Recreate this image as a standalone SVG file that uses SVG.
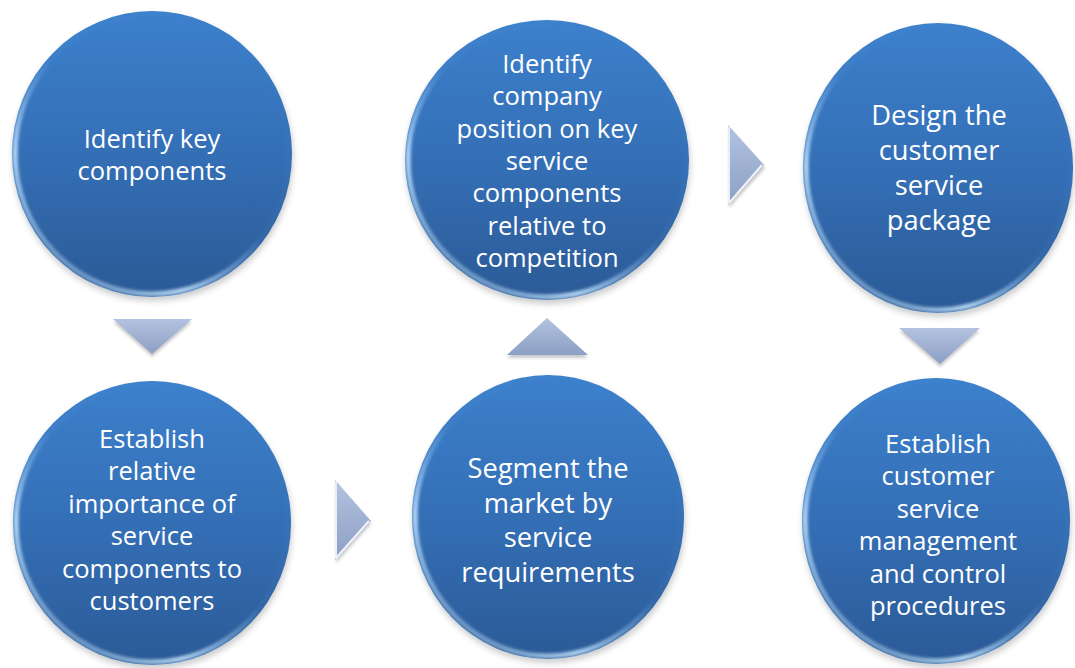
<svg xmlns="http://www.w3.org/2000/svg" width="1075" height="668" viewBox="0 0 1075 668">
<style>
.lbl{font-family:"Open Sans","Noto Sans","DejaVu Sans",sans-serif;fill:#ffffff;text-anchor:middle}
.s{font-size:25.5px}
.l{font-size:27.3px}
.body{fill:url(#gBlue)}
.rim{fill:none;stroke:url(#gRim);stroke-width:5;filter:url(#fSoft)}
.shadow{fill:#6a6a6a;opacity:0.35;filter:url(#fShadow)}
.arrow{fill:url(#gArrow)}
.arrowEdge{fill:none;stroke:url(#gArrowEdge);stroke-width:2;stroke-linejoin:round}
.ashadow{fill:#7a7a7a;opacity:0.4;filter:url(#fShadowS)}
</style>
<defs>
<linearGradient id="gBlue" x1="0" y1="0" x2="0" y2="1">
<stop offset="0" stop-color="#3c80cc"/>
<stop offset="0.5" stop-color="#346fb6"/>
<stop offset="1" stop-color="#2b5a96"/>
</linearGradient>
<linearGradient id="gRim" x1="0.85" y1="0.05" x2="0.15" y2="0.9">
<stop offset="0" stop-color="#9fd0ff" stop-opacity="0"/>
<stop offset="0.5" stop-color="#9fd0ff" stop-opacity="0.05"/>
<stop offset="0.8" stop-color="#c8e8ff" stop-opacity="0.85"/>
<stop offset="1" stop-color="#c8e8ff" stop-opacity="0.35"/>
</linearGradient>
<linearGradient id="gArrow" x1="0" y1="0" x2="0" y2="1">
<stop offset="0" stop-color="#b3c2e0"/>
<stop offset="1" stop-color="#8c9fc4"/>
</linearGradient>
<linearGradient id="gArrowEdge" x1="0" y1="0" x2="1" y2="1">
<stop offset="0" stop-color="#e6ecf8"/>
<stop offset="1" stop-color="#f4f7fd"/>
</linearGradient>
<filter id="fSoft" x="-10%" y="-10%" width="120%" height="120%"><feGaussianBlur stdDeviation="1.5"/></filter>
<filter id="fShadow" x="-20%" y="-20%" width="140%" height="140%"><feGaussianBlur stdDeviation="3"/></filter>
<filter id="fShadowS" x="-30%" y="-30%" width="160%" height="160%"><feGaussianBlur stdDeviation="1.5"/></filter>
</defs>

<g id="connectors">
<g id="arrow-1-2">
<polygon class="ashadow" points="113,322 192,322 152,357"/>
<polygon class="arrow" points="113,319 192,319 152,354"/>
</g>
<g id="arrow-2-4">
<polygon class="ashadow" points="336,483 371,524 336,563"/>
<polygon class="arrow" points="335,480 371,521 335,560"/>
<polyline class="arrowEdge" points="336,482 336,558 369,521"/>
</g>
<g id="arrow-4-3">
<polygon class="ashadow" points="507,358 588,358 547,321"/>
<polygon class="arrow" points="507,355 588,355 547,318"/>
</g>
<g id="arrow-3-5">
<polygon class="ashadow" points="729,128 765,168 729,208"/>
<polygon class="arrow" points="728,125 764,165 728,205"/>
<polyline class="arrowEdge" points="729,127 729,203 762,165"/>
</g>
<g id="arrow-5-6">
<polygon class="ashadow" points="899,331 980,331 940,367"/>
<polygon class="arrow" points="899,328 980,328 940,364"/>
</g>
</g>

<g id="node1">
<ellipse class="shadow" cx="153" cy="158" rx="140" ry="143"/>
<ellipse class="body" cx="152" cy="154" rx="140" ry="143"/>
<ellipse class="rim" cx="152" cy="154" rx="137" ry="140"/>
<text class="lbl s" x="152" y="148">Identify key</text>
<text class="lbl s" x="152" y="180">components</text>
</g>

<g id="node2">
<ellipse class="shadow" cx="153" cy="527" rx="139" ry="142"/>
<ellipse class="body" cx="152" cy="523" rx="139" ry="142"/>
<ellipse class="rim" cx="152" cy="523" rx="136" ry="139"/>
<text class="lbl s" x="152" y="448">Establish</text>
<text class="lbl s" x="152" y="480">relative</text>
<text class="lbl s" x="152" y="513">importance of</text>
<text class="lbl s" x="152" y="545">service</text>
<text class="lbl s" x="152" y="578">components to</text>
<text class="lbl s" x="152" y="610">customers</text>
</g>

<g id="node3">
<ellipse class="shadow" cx="548" cy="164" rx="142" ry="140"/>
<ellipse class="body" cx="547" cy="160" rx="142" ry="140"/>
<ellipse class="rim" cx="547" cy="160" rx="139" ry="137"/>
<text class="lbl s" x="547" y="73">Identify</text>
<text class="lbl s" x="547" y="105">company</text>
<text class="lbl s" x="547" y="138">position on key</text>
<text class="lbl s" x="547" y="170">service</text>
<text class="lbl s" x="547" y="202">components</text>
<text class="lbl s" x="547" y="235">relative to</text>
<text class="lbl s" x="547" y="267">competition</text>
</g>

<g id="node4">
<ellipse class="shadow" cx="549" cy="521" rx="136" ry="142"/>
<ellipse class="body" cx="548" cy="517" rx="136" ry="142"/>
<ellipse class="rim" cx="548" cy="517" rx="133" ry="139"/>
<text class="lbl l" x="548" y="478">Segment the</text>
<text class="lbl l" x="548" y="513">market by</text>
<text class="lbl l" x="548" y="547">service</text>
<text class="lbl l" x="548" y="582">requirements</text>
</g>

<g id="node5">
<ellipse class="shadow" cx="939" cy="172" rx="135" ry="145"/>
<ellipse class="body" cx="938" cy="168" rx="135" ry="145"/>
<ellipse class="rim" cx="938" cy="168" rx="132" ry="142"/>
<text class="lbl l" x="939" y="125">Design the</text>
<text class="lbl l" x="939" y="160">customer</text>
<text class="lbl l" x="939" y="195">service</text>
<text class="lbl l" x="939" y="230">package</text>
</g>

<g id="node6">
<ellipse class="shadow" cx="937" cy="525" rx="134" ry="143"/>
<ellipse class="body" cx="936" cy="521" rx="134" ry="143"/>
<ellipse class="rim" cx="936" cy="521" rx="131" ry="140"/>
<text class="lbl s" x="938" y="453">Establish</text>
<text class="lbl s" x="938" y="485">customer</text>
<text class="lbl s" x="938" y="518">service</text>
<text class="lbl s" x="938" y="550">management</text>
<text class="lbl s" x="938" y="583">and control</text>
<text class="lbl s" x="938" y="615">procedures</text>
</g>
</svg>
